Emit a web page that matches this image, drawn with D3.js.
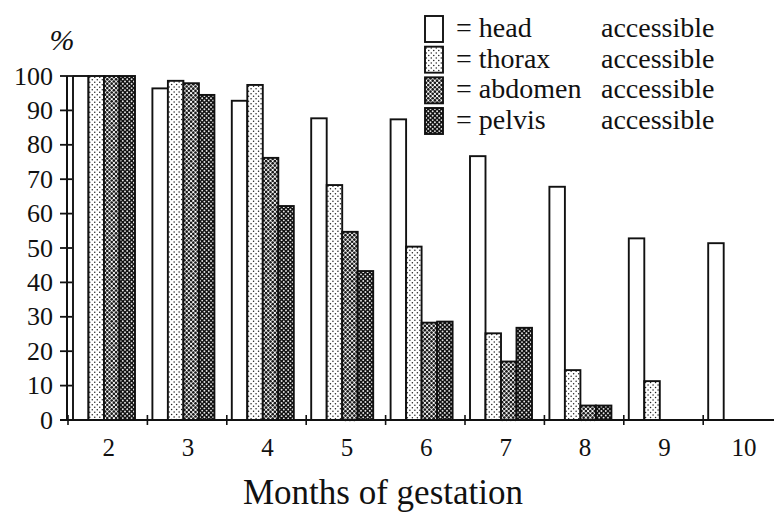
<!DOCTYPE html>
<html>
<head>
<meta charset="utf-8">
<script src="https://cdn.jsdelivr.net/npm/d3@7"></script>
<style>
  html, body { margin: 0; padding: 0; background: #fff; }
  #wrap { position: relative; width: 774px; height: 513px; }
  #wrap svg { position: absolute; left: 0; top: 0; }
</style>
</head>
<body>
<div id="wrap">
  <svg id="marks" width="774" height="513"></svg>
  <svg id="labels" width="774" height="513"></svg>
</div>
<script>
// Share of fetuses with each body region accessible, by month of gestation
const months   = ["2", "3", "4", "5", "6", "7", "8", "9", "10"];
const regions  = ["head", "thorax", "abdomen", "pelvis"];
const head     = [100, 96.4, 92.8, 87.7, 87.4, 76.7, 67.8, 52.8, 51.4];
const thorax   = [100, 98.6, 97.4, 68.3, 50.4, 25.2, 14.5, 11.3, null];
const abdomen  = [100, 97.9, 76.2, 54.7, 28.3, 17.0, 4.2, null, null];
const pelvis   = [100, 94.5, 62.2, 43.3, 28.6, 26.8, 4.2, null, null];
const yTicks   = [0, 10, 20, 30, 40, 50, 60, 70, 80, 90, 100];

const seriesValues = [head, thorax, abdomen, pelvis];

const marks = d3.select("#marks");
const labels = d3.select("#labels");
const ink = "#111";
const serif = '"Liberation Serif"';

// halftone screens: background, dot colour, dot radius, cell size
const screens = [
  null,
  { bg: "#fff", dot: "#222", r: 0.75, s: 5 },
  { bg: "#fff", dot: "#1a1a1a", r: 1.35, s: 4.4 },
  { bg: "#111", dot: "#e8e8e8", r: 0.95, s: 4.4 }
];

// dot centres of a staggered screen inside a rectangle
function screenDots(x0, y0, w, h, s) {
  const pts = [];
  for (let yy = y0 + s * 0.25; yy < y0 + h; yy += s) {
    for (let xx = x0 + s * 0.25; xx < x0 + w; xx += s) {
      pts.push([xx, yy]);
      if (xx + s / 2 < x0 + w && yy + s / 2 < y0 + h) pts.push([xx + s / 2, yy + s / 2]);
    }
  }
  return pts;
}

// draw one shaded box: fill, halftone dots, outline
function shadedBox(g, k, bx, by, bw, bh) {
  const sc = screens[k];
  g.append("rect").attr("x", bx).attr("y", by).attr("width", bw).attr("height", bh)
    .attr("fill", sc ? sc.bg : "#fff");
  if (sc) {
    g.append("g").selectAll("circle")
      .data(screenDots(bx, by, bw, bh, sc.s))
      .join("circle")
      .attr("cx", d => d[0]).attr("cy", d => d[1]).attr("r", sc.r)
      .attr("fill", sc.dot);
  }
  g.append("rect").attr("x", bx).attr("y", by).attr("width", bw).attr("height", bh)
    .attr("fill", "none").attr("stroke", ink).attr("stroke-width", 1.9);
}

// ---- scales ----
const x = d3.scaleBand().domain(months).range([68, 68 + 79.4 * months.length]).padding(0);
const sub = d3.scaleBand().domain(regions).range([5, 5 + 15.5 * 4]).padding(0);
const y = d3.scaleLinear().domain([0, 100]).range([420, 76]);

// ---- bars ----
const barLayer = marks.append("g");
months.forEach((m, i) => {
  regions.forEach((r, k) => {
    const v = seriesValues[k][i];
    if (v == null) return;
    const bx = x(m) + sub(r);
    shadedBox(barLayer, k, bx, y(v), sub.bandwidth(), y(0) - y(v));
  });
});

// ---- x axis ----
marks.append("line")
  .attr("x1", 60).attr("x2", 774)
  .attr("y1", y(0)).attr("y2", y(0))
  .attr("stroke", ink).attr("stroke-width", 2);
marks.append("g").selectAll("line")
  .data(months)
  .join("line")
  .attr("x1", d => x(d)).attr("x2", d => x(d))
  .attr("y1", y(0) - 5).attr("y2", y(0) + 5)
  .attr("stroke", ink).attr("stroke-width", 1.6);

// ---- y axis ----
marks.append("line")
  .attr("x1", 67).attr("x2", 67)
  .attr("y1", y(0)).attr("y2", y(100))
  .attr("stroke", ink).attr("stroke-width", 2);
marks.append("g").selectAll("line")
  .data(yTicks)
  .join("line")
  .attr("x1", 60).attr("x2", 72)
  .attr("y1", d => y(d)).attr("y2", d => y(d))
  .attr("stroke", ink).attr("stroke-width", 1.8);

// ---- legend swatches ----
const rowY = d3.scalePoint().domain(regions).range([29, 121]);
regions.forEach((r, k) => shadedBox(marks, k, 425, rowY(r) - 13, 18, 26));

// ---- text ----
labels.selectAll("text.xt")
  .data(months)
  .join("text")
  .attr("class", "xt")
  .attr("x", d => x(d) + x.bandwidth() / 2 + 1)
  .attr("y", 456)
  .attr("text-anchor", "middle")
  .style("font-family", serif)
  .attr("font-size", 25)
  .attr("fill", ink)
  .text(d => d);

labels.selectAll("text.yt")
  .data(yTicks)
  .join("text")
  .attr("class", "yt")
  .attr("x", 53)
  .attr("y", d => y(d) + 8.5)
  .attr("text-anchor", "end")
  .style("font-family", serif)
  .attr("font-size", 26)
  .attr("fill", ink)
  .text(d => d);

labels.append("text")
  .attr("x", 62).attr("y", 50)
  .attr("text-anchor", "middle")
  .style("font-family", serif)
  .attr("font-size", 30)
  .attr("font-style", "italic")
  .attr("fill", ink)
  .text("%");

// axis title
labels.append("text")
  .attr("x", 383)
  .attr("y", 504)
  .attr("text-anchor", "middle")
  .style("font-family", serif)
  .attr("font-size", 35)
  .attr("fill", ink)
  .text("Months of gestation");

labels.selectAll("text.lg")
  .data(regions)
  .join("text")
  .attr("class", "lg")
  .attr("x", 456)
  .attr("y", d => rowY(d) + 8)
  .style("font-family", serif)
  .attr("font-size", 28)
  .attr("fill", ink)
  .text(d => "= " + d);

labels.selectAll("text.acc")
  .data(regions)
  .join("text")
  .attr("class", "acc")
  .attr("x", 601)
  .attr("y", d => rowY(d) + 8)
  .style("font-family", serif)
  .attr("font-size", 28)
  .attr("fill", ink)
  .text("accessible");
</script>
</body>
</html>
